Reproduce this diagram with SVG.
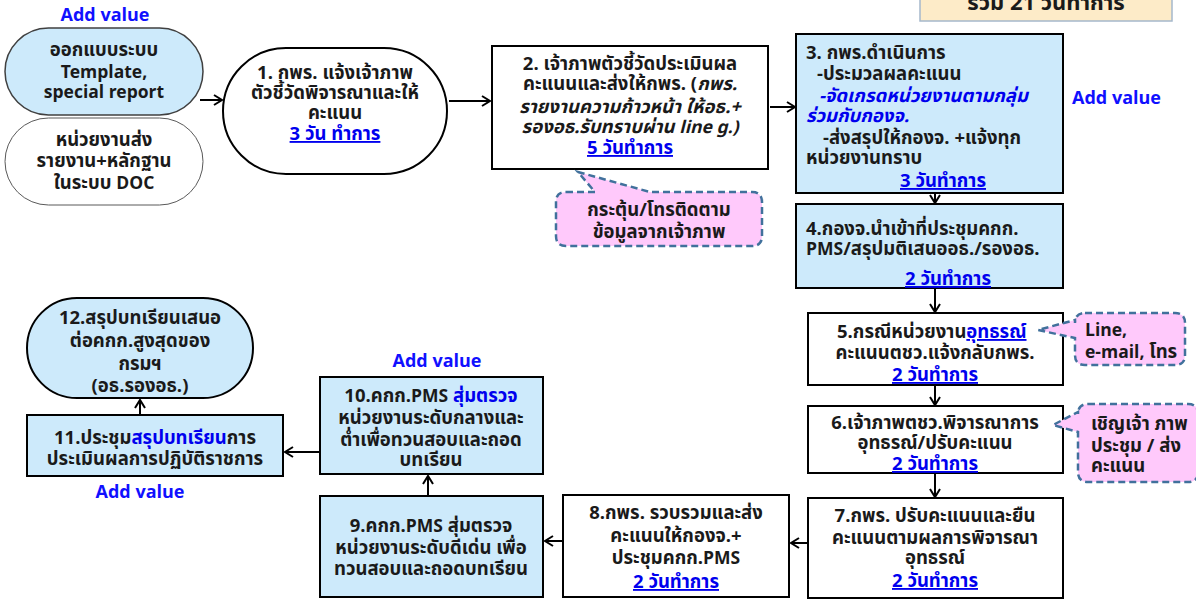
<svg xmlns="http://www.w3.org/2000/svg" width="1196" height="601" viewBox="0 0 1196 601">
<defs>
<marker id="arr" viewBox="0 0 12 12" refX="10" refY="6" markerWidth="12" markerHeight="12" markerUnits="userSpaceOnUse" orient="auto">
<path d="M2,1 L10,6 L2,11" fill="none" stroke="#000" stroke-width="2"/>
</marker>
</defs>
<style>
text{font-family:Tahoma,"Noto Sans Thai","Noto Sans","DejaVu Sans",sans-serif;font-size:18.5px;font-weight:bold;fill:#1a1a1a}
.l{font-size:17.5px}
.c{text-anchor:middle}
.b{fill:#0000ee}
.u{fill:#0000ee;text-decoration:underline}
.i{font-style:italic}
.av{fill:#1010ff;font-size:18px}
.box{stroke:#000;stroke-width:2}
.blue{fill:#cdeafb}
.white{fill:#fff}
.call{fill:#ffc9fb;stroke:#41719c;stroke-width:2.5;stroke-dasharray:7 4}
.con{fill:none;stroke:#000;stroke-width:2;marker-end:url(#arr)}
</style>
<rect width="1196" height="601" fill="#fff"/>

<g id="total">
<rect x="920" y="-20" width="252" height="41" fill="#fdebc8" stroke="#a5b8cc" stroke-width="1.5"/>
<text class="c" x="1046" y="10" style="font-size:22px">รวม 21 วันทำการ</text>
</g>

<g id="av1"><text class="av c" x="105" y="21">Add value</text></g>
<g id="av3"><text class="av" x="1072" y="104">Add value</text></g>
<g id="av10"><text class="av c" x="437" y="367">Add value</text></g>
<g id="av11"><text class="av c" x="140" y="498">Add value</text></g>

<g id="nodeA">
<rect x="5" y="28" width="198" height="87" rx="43.5" class="blue" stroke="#404040" stroke-width="1.5"/>
<text class="c" x="104" y="56">ออกแบบระบบ</text>
<text class="c l" x="104" y="78">Template,</text>
<text class="c l" x="104" y="98">special report</text>
</g>

<g id="nodeB">
<rect x="5" y="118" width="198" height="87" rx="43.5" class="white" stroke="#595959" stroke-width="1"/>
<text class="c" x="104" y="146">หน่วยงานส่ง</text>
<text class="c" x="104" y="167">รายงาน+หลักฐาน</text>
<text class="c" x="104" y="189">ในระบบ <tspan class="l">DOC</tspan></text>
</g>

<g id="node1">
<rect x="223" y="48" width="224" height="126" rx="63" class="white box"/>
<text class="c" x="335" y="79">1. กพร. แจ้งเจ้าภาพ</text>
<text class="c" x="335" y="99">ตัวชี้วัดพิจารณาและให้</text>
<text class="c" x="335" y="119">คะแนน</text>
<text class="c u" x="335" y="140">3 วัน ทำการ</text>
</g>

<g id="node2">
<rect x="492" y="46" width="276" height="123" class="white box"/>
<text class="c" x="630" y="70">2. เจ้าภาพตัวชี้วัดประเมินผล</text>
<text class="c" x="630" y="90">คะแนนและส่งให้กพร. (<tspan class="i">กพร.</tspan></text>
<text class="c i" x="630" y="113">รายงานความก้าวหน้า ให้อธ.+</text>
<text class="c i" x="630" y="133">รองอธ.รับทราบผ่าน <tspan class="l">line g.)</tspan></text>
<text class="c u" x="630" y="154">5 วันทำการ</text>
</g>

<g id="call2">
<path class="call" d="M566,192 H595 L578,172 L650,192 H752 Q762,192 762,202 V236 Q762,246 752,246 H566 Q556,246 556,236 V202 Q556,192 566,192 Z"/>
<text class="c" x="659" y="216">กระตุ้น/โทรติดตาม</text>
<text class="c" x="659" y="238">ข้อมูลจากเจ้าภาพ</text>
</g>

<g id="node3">
<rect x="796" y="34" width="267" height="159" class="blue box"/>
<text x="806" y="59">3. กพร.ดำเนินการ</text>
<text x="817" y="80">-ประมวลผลคะแนน</text>
<text class="b i" x="819" y="102">-จัดเกรดหน่วยงานตามกลุ่ม</text>
<text class="b i" x="806" y="122">ร่วมกับกองจ.</text>
<text x="823" y="144">-ส่งสรุปให้กองจ. +แจ้งทุก</text>
<text x="806" y="164">หน่วยงานทราบ</text>
<text class="c u" x="943" y="187">3 วันทำการ</text>
</g>

<g id="node4">
<rect x="796" y="204" width="267" height="84" class="blue box"/>
<text x="806" y="235">4.กองจ.นำเข้าที่ประชุมคกก.</text>
<text x="806" y="255"><tspan class="l">PMS</tspan>/สรุปมติเสนออธ./รองอธ.</text>
<text class="c u" x="948" y="285">2 วันทำการ</text>
</g>

<g id="node5">
<rect x="808" y="313" width="255" height="72" class="white box"/>
<text x="837" y="338">5.กรณีหน่วยงาน<tspan class="u">อุทธรณ์</tspan></text>
<text class="c" x="935" y="359">คะแนนตชว.แจ้งกลับกพร.</text>
<text class="c u" x="935" y="381">2 วันทำการ</text>
</g>

<g id="call5">
<path class="call" d="M1085,313 H1175 Q1185,313 1185,323 V355 Q1185,365 1175,365 H1085 Q1075,365 1075,355 V338 L1038,330 L1075,320 V323 Q1075,313 1085,313 Z"/>
<text class="l" x="1085" y="336">Line,</text>
<text x="1085" y="358"><tspan class="l">e-mail,</tspan> โทร</text>
</g>

<g id="node6">
<rect x="808" y="406" width="255" height="67" class="white box"/>
<text class="c" x="935" y="429">6.เจ้าภาพตชว.พิจารณาการ</text>
<text class="c" x="935" y="449">อุทธรณ์/ปรับคะแนน</text>
<text class="c u" x="935" y="470">2 วันทำการ</text>
</g>

<g id="call6">
<path class="call" d="M1088,404 H1188 Q1198,404 1198,414 V472 Q1198,482 1188,482 H1088 Q1078,482 1078,472 V432 L1053,425 L1078,412 V414 Q1078,404 1088,404 Z"/>
<text x="1091" y="430">เชิญเจ้า ภาพ</text>
<text x="1091" y="452">ประชุม / ส่ง</text>
<text x="1091" y="472">คะแนน</text>
</g>

<g id="node7">
<rect x="808" y="498" width="255" height="100" class="white box"/>
<text class="c" x="935" y="522">7.กพร. ปรับคะแนนและยืน</text>
<text class="c" x="935" y="544">คะแนนตามผลการพิจารณา</text>
<text class="c" x="935" y="564">อุทธรณ์</text>
<text class="c u" x="935" y="587">2 วันทำการ</text>
</g>

<g id="node8">
<rect x="563" y="495" width="226" height="102" class="white box"/>
<text class="c" x="676" y="519">8.กพร. รวบรวมและส่ง</text>
<text class="c" x="676" y="542">คะแนนให้กองจ.+</text>
<text class="c" x="676" y="564">ประชุมคกก.<tspan class="l">PMS</tspan></text>
<text class="c u" x="676" y="588">2 วันทำการ</text>
</g>

<g id="node9">
<rect x="320" y="496" width="223" height="101" class="blue box"/>
<text class="c" x="431" y="532">9.คกก.<tspan class="l">PMS</tspan> สุ่มตรวจ</text>
<text class="c" x="431" y="554">หน่วยงานระดับดีเด่น เพื่อ</text>
<text class="c" x="431" y="575">ทวนสอบและถอดบทเรียน</text>
</g>

<g id="node10">
<rect x="320" y="377" width="223" height="97" class="blue box"/>
<text class="c" x="431" y="402">10.คกก.<tspan class="l">PMS</tspan> <tspan class="b">สุ่มตรวจ</tspan></text>
<text class="c" x="431" y="424">หน่วยงานระดับกลางและ</text>
<text class="c" x="431" y="446">ต่ำเพื่อทวนสอบและถอด</text>
<text class="c" x="431" y="466">บทเรียน</text>
</g>

<g id="node11">
<rect x="27" y="415" width="256" height="61" class="blue box"/>
<text class="c" x="155" y="444">11.ประชุม<tspan class="b">สรุปบทเรียน</tspan>การ</text>
<text class="c" x="155" y="465">ประเมินผลการปฏิบัติราชการ</text>
</g>

<g id="node12">
<rect x="27" y="298" width="226" height="100" rx="50" class="blue box"/>
<text class="c" x="140" y="324">12.สรุปบทเรียนเสนอ</text>
<text class="c" x="140" y="347">ต่อคกก.สูงสุดของ</text>
<text class="c" x="140" y="370">กรมฯ</text>
<text class="c" x="140" y="392">(อธ.รองอธ.)</text>
</g>

<g id="connectors">
<line class="con" x1="200" y1="100" x2="222" y2="100"/>
<line class="con" x1="449" y1="101" x2="490" y2="101"/>
<line class="con" x1="770" y1="107" x2="795" y2="107"/>
<line class="con" x1="935" y1="194" x2="935" y2="203"/>
<line class="con" x1="935" y1="289" x2="935" y2="312"/>
<line class="con" x1="935" y1="386" x2="935" y2="405"/>
<line class="con" x1="935" y1="474" x2="935" y2="497"/>
<line class="con" x1="808" y1="543" x2="791" y2="543"/>
<line class="con" x1="563" y1="541" x2="545" y2="541"/>
<line class="con" x1="428" y1="496" x2="428" y2="476"/>
<line class="con" x1="320" y1="452" x2="285" y2="452"/>
<line class="con" x1="140" y1="415" x2="140" y2="400"/>
</g>
</svg>
